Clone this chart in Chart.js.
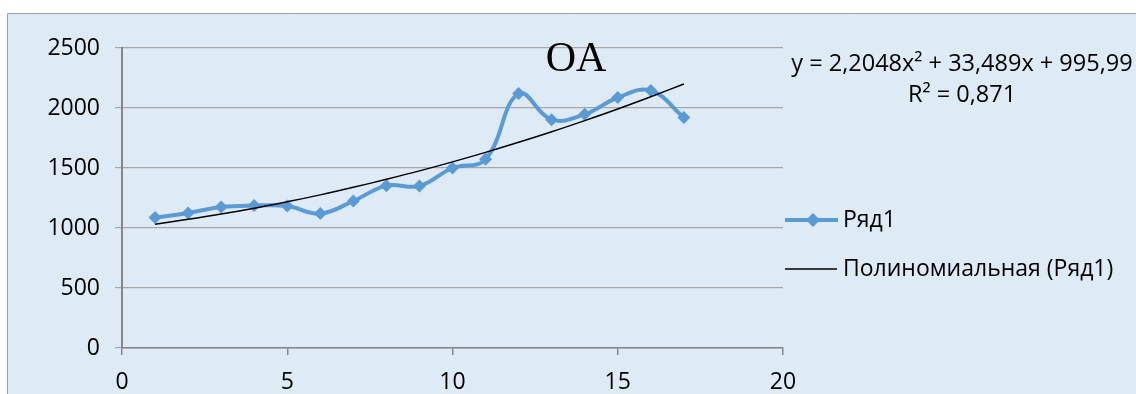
<!DOCTYPE html>
<html>
<head>
<meta charset="utf-8">
<script src="https://cdn.jsdelivr.net/npm/chart.js@4.4.1/dist/chart.umd.min.js"></script>
<style>
  html, body { margin: 0; padding: 0; background: #fff; }
</style>
</head>
<body>
<canvas id="chart" width="1136" height="394"></canvas>
<script>
// data
const xValues = [1, 2, 3, 4, 5, 6, 7, 8, 9, 10, 11, 12, 13, 14, 15, 16, 17];
const seriesValues = [1087, 1125, 1175, 1187, 1183, 1120, 1225, 1353, 1350, 1500, 1572, 2120, 1903, 1947, 2087, 2145, 1920];
const trendValues = [1032, 1072, 1116, 1165, 1219, 1276, 1339, 1406, 1476, 1551, 1630, 1714, 1802, 1895, 1992, 2094, 2200];
const seriesName = 'Ряд1';
const trendName = 'Полиномиальная (Ряд1)';
const titleText = 'OA';
const equationText = 'y = 2,2048x² + 33,489x + 995,99';
const r2Text = 'R² = 0,871';

const blue = '#5B9BD5';
const font = '"Open Sans", sans-serif';

// background, title, trend equation and legend
const decor = {
    id: 'decor',
    beforeDraw(chart) {
        const c = chart.ctx;
        c.save();
        c.fillStyle = '#fff';
        c.fillRect(0, 0, chart.width, chart.height);
        c.fillStyle = '#DEEBF7';
        c.fillRect(8, 13, chart.width - 8, chart.height - 13);
        c.strokeStyle = '#A0A0A0';
        c.lineWidth = 1;
        c.beginPath();
        c.moveTo(7.5, chart.height);
        c.lineTo(7.5, 13.5);
        c.lineTo(chart.width, 13.5);
        c.stroke();
        c.restore();
    },
    afterDraw(chart) {
        const c = chart.ctx;
        c.save();
        c.fillStyle = '#000';
        c.textBaseline = 'middle';
        c.textAlign = 'center';
        c.font = '42px "Liberation Serif", serif';
        c.fillText(titleText, 576, 60);

        c.font = '23.5px ' + font;
        c.fillText(equationText, 962, 64);
        c.fillText(r2Text, 962, 95);

        // legend
        c.textAlign = 'left';
        c.strokeStyle = blue;
        c.lineWidth = 4;
        c.beginPath();
        c.moveTo(785, 220);
        c.lineTo(838, 220);
        c.stroke();
        c.fillStyle = blue;
        c.beginPath();
        c.moveTo(813, 213);
        c.lineTo(820, 220);
        c.lineTo(813, 227);
        c.lineTo(806, 220);
        c.closePath();
        c.fill();
        c.strokeStyle = '#000';
        c.lineWidth = 1.5;
        c.beginPath();
        c.moveTo(785, 269);
        c.lineTo(837, 269);
        c.stroke();
        c.fillStyle = '#000';
        c.font = '23px ' + font;
        c.fillText(seriesName, 843, 220);
        c.fillText(trendName, 843, 269);
        c.restore();
    }
};

new Chart(document.getElementById('chart').getContext('2d'), {
    type: 'line',
    data: {
        datasets: [{
            label: seriesName,
            data: xValues.map((x, i) => ({ x: x, y: seriesValues[i] })),
            borderColor: blue,
            backgroundColor: blue,
            borderWidth: 4,
            tension: 0.4,
            pointStyle: 'rectRot',
            pointRadius: 6.5,
            pointBorderWidth: 0,
            order: 2
        }, {
            label: trendName,
            data: xValues.map((x, i) => ({ x: x, y: trendValues[i] })),
            borderColor: '#000',
            borderWidth: 1.5,
            tension: 0.4,
            pointRadius: 0,
            order: 1
        }]
    },
    options: {
        responsive: false,
        animation: false,
        events: [],
        layout: { padding: { left: 0, top: 48, right: 353, bottom: 0 } },
        plugins: {
            legend: { display: false },
            tooltip: { enabled: false }
        },
        scales: {
            x: {
                type: 'linear',
                min: 0,
                max: 20,
                ticks: { stepSize: 5, color: '#000', padding: 14, font: { family: font, size: 23 }, callback: v => String(v) },
                grid: { drawOnChartArea: false, drawTicks: true, tickLength: 7, color: '#868686', lineWidth: 1.5 },
                border: { color: '#868686', width: 1.5 },
                afterFit(scale) { scale.height = 46; }
            },
            y: {
                min: 0,
                max: 2500,
                ticks: { stepSize: 500, color: '#000', padding: 15, font: { family: font, size: 23 }, callback: v => String(v) },
                grid: { color: '#A6A6A6', lineWidth: 1.2, tickLength: 7 },
                border: { color: '#868686', width: 2 },
                afterFit(scale) { scale.width = 122; }
            }
        }
    },
    plugins: [decor]
});
</script>
</body>
</html>
